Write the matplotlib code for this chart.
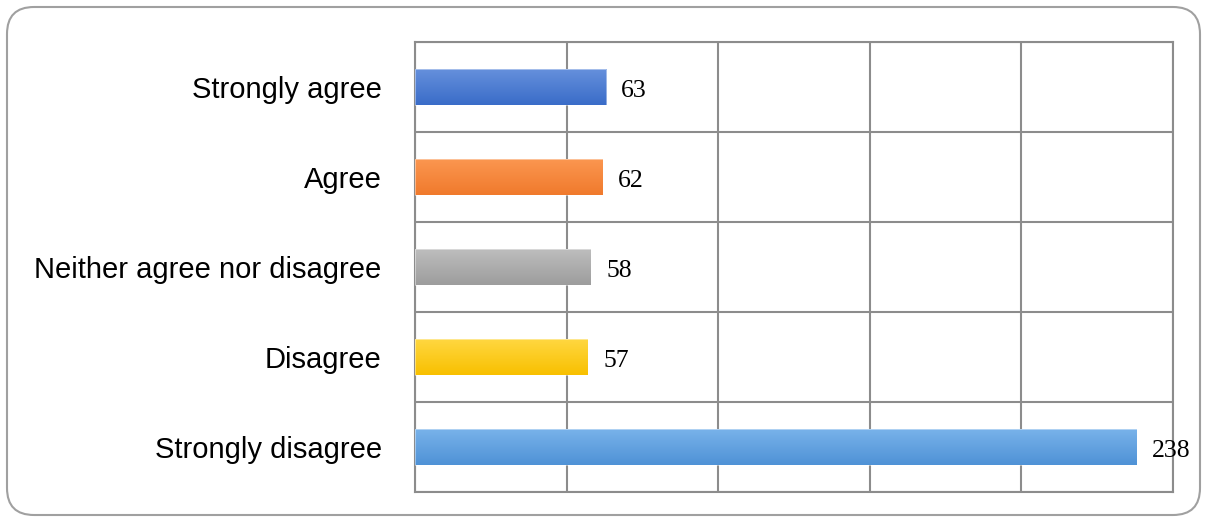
import matplotlib
matplotlib.use("Agg")
import matplotlib.pyplot as plt
import numpy as np
from matplotlib.patches import FancyBboxPatch
from matplotlib.colors import LinearSegmentedColormap

categories = ["Strongly agree", "Agree", "Neither agree nor disagree", "Disagree", "Strongly disagree"]
values = [63, 62, 58, 57, 238]
colors_top = ["#6590dc", "#fb9650", "#bdbdbd", "#ffd740", "#78b2ea"]
colors_bot = ["#3a6cc8", "#f07a2c", "#9d9d9d", "#f8c000", "#4f92d6"]

fig = plt.figure(figsize=(12.05, 5.22), dpi=100)
frame = FancyBboxPatch((0.07, 0.07), 11.93, 5.08,
                       boxstyle="round,pad=0,rounding_size=0.27",
                       transform=fig.dpi_scale_trans, facecolor="none",
                       edgecolor="#a0a0a0", linewidth=1.5, zorder=-1)
fig.patches.append(frame)

ax = fig.add_axes([415/1205, 1-492/522, (1173-415)/1205, (492-42)/522])
ax.set_facecolor("none")
y = np.arange(len(categories))
bars = ax.barh(y, values, height=0.39, color="none", edgecolor="none", zorder=3)
grad = np.linspace(0, 1, 64).reshape(-1, 1)
for b, ct, cb in zip(bars, colors_top, colors_bot):
    x0, y0 = b.get_x(), b.get_y()
    w, h = b.get_width(), b.get_height()
    cmap = LinearSegmentedColormap.from_list("g", [ct, cb])
    im = ax.imshow(grad, cmap=cmap, aspect="auto", extent=(x0, x0 + w, y0 + h, y0),
                   origin="upper", zorder=3, interpolation="bilinear")
    im.set_clip_path(b)
    ax.add_patch(plt.Rectangle((x0, y0), w, h, fill=False, edgecolor="#ffffff", linewidth=0.6, alpha=0.5, zorder=4))

ax.set_xlim(0, 250)
ax.set_ylim(len(categories) - 0.5, -0.5)
ax.set_aspect("auto")
ax.set_xticks(np.arange(0, 251, 50))
ax.set_yticks(np.arange(-0.5, len(categories), 1))
ax.set_yticklabels([])
ax.set_xticklabels([])
ax.grid(True, color="#8c8c8c", linewidth=1.5, zorder=0)
ax.set_axisbelow(True)
ax.tick_params(length=0)
for s in ax.spines.values():
    s.set_color("#8c8c8c")
    s.set_linewidth(1.5)

for yi, cat in zip(y, categories):
    ax.annotate(cat, (0, yi), xytext=(-24, -2), textcoords="offset points",
                ha="right", va="center", fontsize=21, family="Liberation Sans", color="#000000")
for yi, v in zip(y, values):
    ax.annotate(str(v), (v, yi), xytext=(11, -3), textcoords="offset points",
                ha="left", va="center", fontsize=18.5, family="Liberation Serif", color="#000000")

fig.savefig("out.png", dpi=100)
